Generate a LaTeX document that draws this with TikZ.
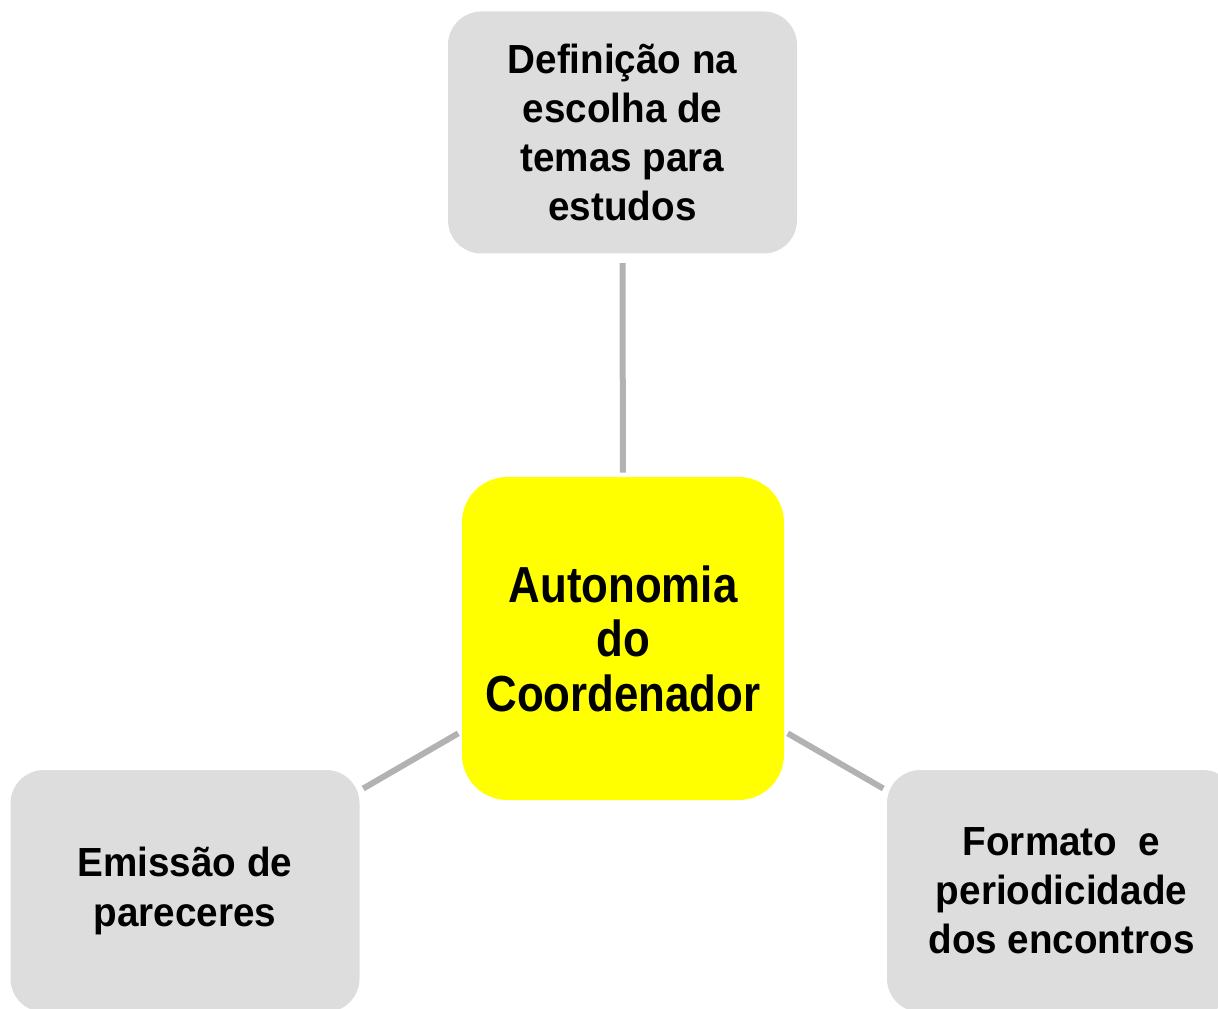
\documentclass[tikz,border=0pt]{standalone}
\usepackage{fontspec}
\setmainfont{Liberation Sans}
\newfontfamily\topicfont{Liberation Sans}[FakeStretch=0.95]
\newfontfamily\centrefont{Liberation Sans}[FakeStretch=0.865]
\usepackage{xcolor}
\usepackage{tikz}

\definecolor{boxgray}{HTML}{DDDDDD}
\definecolor{linkgray}{HTML}{B2B2B2}
\definecolor{centreyellow}{HTML}{FFFF00}

\begin{document}
\begin{tikzpicture}[x=0.75pt,y=-0.75pt,
	topic/.style={fill=boxgray,rounded corners=25pt,minimum width=261.75pt,minimum height=181.5pt,
		align=center,font=\topicfont\fontsize{30.5}{36.9}\selectfont\bfseries,inner sep=0pt},
	centre/.style={fill=centreyellow,rounded corners=34pt,minimum width=241.5pt,minimum height=242.25pt,
		align=center,font=\centrefont\fontsize{38}{40.8}\selectfont\bfseries,inner sep=0pt},
	link/.style={draw=linkgray,line width=4.5pt,shorten <=3pt,shorten >=3pt}]
	\useasboundingbox (0,0) rectangle (1218,1009);
	\clip (0,0) rectangle (1218,1009);
	\path (623,638.5) node[centre] (autonomia) {Autonomia\\do\\Coordenador};
	\path (622.5,132.5) node[topic] (temas) {Definição na\\escolha de\\temas para\\estudos};
	\path (185,891) node[topic] (pareceres) {Emissão de\\pareceres};
	\path (1061.5,891) node[topic] (formato) {Formato\ \ e\\periodicidade\\dos encontros};
	% ligações ao centro
	\draw[link,shorten >=7pt] (autonomia) -- (temas);
	\draw[link] (autonomia) -- (pareceres);
	\draw[link] (autonomia) -- (formato);
\end{tikzpicture}
\end{document}
